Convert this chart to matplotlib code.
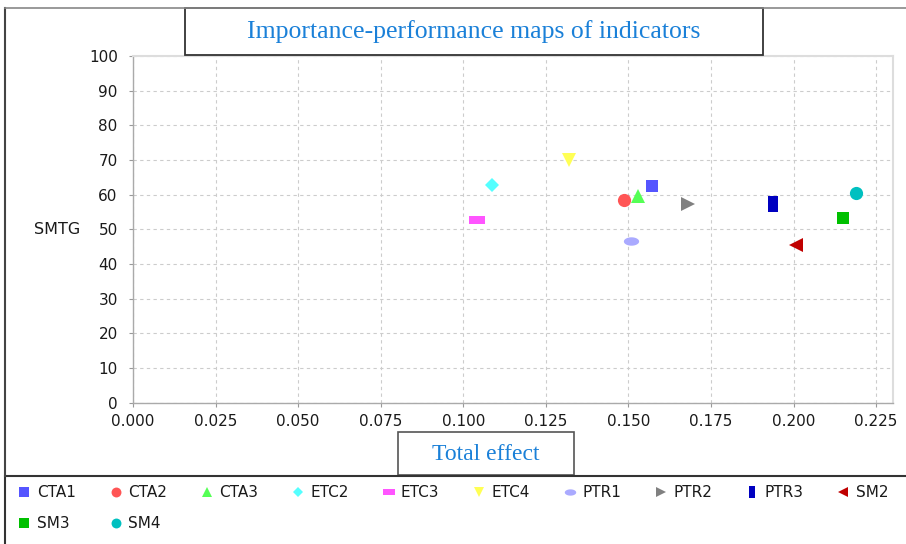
import numpy as np
import matplotlib
matplotlib.use("Agg")
import matplotlib.pyplot as plt
from matplotlib.patches import Rectangle
from matplotlib.path import Path
from matplotlib.lines import Line2D

# =========================
# Data
# =========================
names = ["CTA1", "CTA2", "CTA3", "ETC2", "ETC3", "ETC4",
         "PTR1", "PTR2", "PTR3", "SM2", "SM3", "SM4"]
total_effect = [0.1571, 0.1486, 0.1529, 0.1087, 0.1041, 0.1320,
                0.1507, 0.1680, 0.1937, 0.2007, 0.2149, 0.2189]
smtg = [62.5, 58.5, 59.5, 62.8, 52.7, 70.0,
        46.6, 57.3, 57.3, 45.5, 53.3, 60.5]

x_ticks = [0.0, 0.025, 0.05, 0.075, 0.1, 0.125, 0.15, 0.175, 0.2, 0.225]
y_ticks = list(range(0, 101, 10))

# =========================
# Styles (JFreeChart-like series paints / shapes)
# =========================
colors = ["#5555ff", "#ff5555", "#55ff55", "#55ffff", "#ff55ff", "#ffff55",
          "#aaaaff", "#808080", "#0000c0", "#c00000", "#00c000", "#00c0c0"]

t = np.linspace(0, 2 * np.pi, 40)
ellipse = Path(np.column_stack([np.cos(t), 0.55 * np.sin(t)]))
hrect = Path([(-1, -0.5), (1, -0.5), (1, 0.5), (-1, 0.5), (-1, -0.5)], closed=True)
vrect = Path([(-0.6, -1), (0.6, -1), (0.6, 1), (-0.6, 1), (-0.6, -1)], closed=True)

markers = ["s", "o", "^", "D", hrect, "v", ellipse, ">", vrect, "<", "s", "o"]
sizes = [9, 9.5, 10, 7, 11, 10, 11, 10, 11, 10, 9, 9.5]

plt.rcParams.update({
    "font.family": "DejaVu Sans",
    "font.size": 11,
})

fig = plt.figure(figsize=(9.06, 5.44), dpi=100)
W, H = 906.0, 544.0


def fx(px):
    return px / W


def fy(py):
    return 1 - py / H


ax = fig.add_axes([fx(133), fy(402.7), fx(893) - fx(133), fy(56) - fy(402.7)])

for n, xv, yv, c, m, s in zip(names, total_effect, smtg, colors, markers, sizes):
    ax.plot([xv], [yv], linestyle="none", marker=m, markersize=s,
            color=c, markeredgewidth=0, label=n)

ax.set_xlim(0, 0.2301)
ax.set_ylim(0, 100)
ax.set_xticks(x_ticks)
ax.set_xticklabels([f"{v:.3f}" for v in x_ticks])
ax.set_yticks(y_ticks)
ax.tick_params(direction="out", length=3, color="#999999", labelcolor="#1a1a1a",
               labelsize=11)
ax.tick_params(axis="x", pad=5)
ax.tick_params(axis="y", pad=8)

ax.grid(True, linestyle=(0, (3, 3)), linewidth=0.8, color="#cccccc")
ax.set_axisbelow(True)
for side in ["left", "bottom"]:
    ax.spines[side].set_color("#aaaaaa")
    ax.spines[side].set_linewidth(1.0)
for side in ["top", "right"]:
    ax.spines[side].set_color("#dddddd")
    ax.spines[side].set_linewidth(1.5)

ax.set_ylabel("SMTG", rotation=0, fontsize=11.5, color="#1a1a1a", va="center", ha="center")
ax.yaxis.set_label_coords((57 - 133) / (893 - 133), (402.7 - 229) / (402.7 - 56))

# =========================
# Frames and boxed titles
# =========================
fig.add_artist(Line2D([fx(5), fx(5)], [fy(8), fy(476)], color="#444444", linewidth=1.5))
fig.add_artist(Line2D([fx(5), 1], [fy(8), fy(8)], color="#888888", linewidth=1.2))

title_box = Rectangle((fx(185), fy(55)), fx(763) - fx(185), fy(8) - fy(55),
                      transform=fig.transFigure, facecolor="white",
                      edgecolor="#333333", linewidth=1.3)
fig.add_artist(title_box)
fig.text(fx(474), fy(32), "Importance-performance maps of indicators",
         family="Liberation Serif", fontsize=18.5, color="#1a80d8",
         ha="center", va="center")

xl_box = Rectangle((fx(398), fy(475)), fx(574) - fx(398), fy(432) - fy(475),
                   transform=fig.transFigure, facecolor="white",
                   edgecolor="#555555", linewidth=1.2)
fig.add_artist(xl_box)
fig.text(fx(486), fy(455), "Total effect",
         family="Liberation Serif", fontsize=17, color="#1a80d8",
         ha="center", va="center")

leg_box = Rectangle((fx(5), fy(546)), fx(910) - fx(5), fy(476) - fy(546),
                    transform=fig.transFigure, facecolor="white",
                    edgecolor="#333333", linewidth=1.5)
fig.add_artist(leg_box)

# row-major order for a 10-column legend (matplotlib fills column by column)
handles, labels = ax.get_legend_handles_labels()
order = [0, 10, 1, 11] + list(range(2, 10))
leg = fig.legend([handles[i] for i in order], [labels[i] for i in order],
                 ncol=10, loc="upper left",
                 bbox_to_anchor=(fx(16), fy(482)), frameon=False,
                 markerscale=0.75, handlelength=0.7, handletextpad=0.45,
                 columnspacing=2.27, labelspacing=1.05, fontsize=11,
                 borderaxespad=0, borderpad=0.2)
for txt in leg.get_texts():
    txt.set_color("#1a1a1a")

fig.savefig("out.png", dpi=100)
